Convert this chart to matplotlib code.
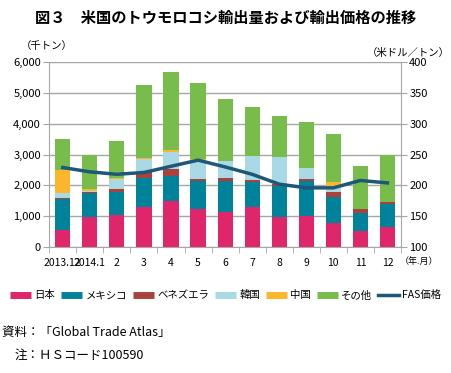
import numpy as np
import matplotlib.pyplot as plt
from matplotlib.lines import Line2D

plt.rcParams['font.family'] = ['Noto Sans CJK JP', 'DejaVu Sans']

### Data
months = ["2013.12", "2014.1", "2", "3", "4", "5", "6", "7", "8", "9", "10", "11", "12"]
japan = [545, 960, 1035, 1290, 1505, 1230, 1130, 1290, 980, 1015, 765, 525, 635]
mexico = [1005, 785, 765, 965, 815, 920, 1000, 835, 1015, 1135, 870, 565, 760]
venezuela = [50, 55, 85, 175, 210, 50, 110, 55, 55, 60, 165, 130, 55]
korea = [145, 20, 325, 440, 560, 640, 540, 760, 860, 350, 195, 10, 10]
china = [762, 55, 20, 20, 70, 15, 10, 10, 10, 10, 110, 10, 10]
others = [1003, 1125, 1200, 2360, 2510, 2475, 2020, 1610, 1350, 1495, 1575, 1405, 1505]
fas_price = [229, 222, 218, 221, 231, 241, 230, 218, 202, 196, 196, 208, 204]

series = [("日本", japan, "#E0266B"),
          ("メキシコ", mexico, "#00839A"),
          ("ベネズエラ", venezuela, "#A8423B"),
          ("韓国", korea, "#A9D9E5"),
          ("中国", china, "#FBB62B"),
          ("その他", others, "#78BC4C")]
line_color = "#1D5878"
grid_color = "#A6A6A6"

### Figure
fig = plt.figure(figsize=(4.52, 3.73), dpi=100)
ax = fig.add_axes([0.109, 0.338, 0.778, 0.495])
x = np.arange(len(months))

bottom = np.zeros(len(months))
for name, vals, col in series:
    ax.bar(x, vals, width=0.56, bottom=bottom, color=col, zorder=2)
    bottom += np.array(vals)

ax.set_xlim(-0.5, len(months) - 0.5)
ax.set_ylim(0, 6000)
ax.set_yticks(range(0, 6001, 1000))
ax.set_yticklabels([f"{v:,}" for v in range(0, 6001, 1000)], fontsize=8)
ax.set_xticks(x)
ax.set_xticklabels(months, fontsize=7.5)
ax.set_xticks(np.arange(-0.5, len(months), 1), minor=True)
ax.tick_params(axis="x", which="major", length=0, pad=8)
ax.tick_params(axis="x", which="minor", length=4, color=grid_color)
ax.tick_params(axis="y", length=4, color=grid_color, pad=2)
ax.grid(axis="y", color=grid_color, lw=1, zorder=0)
ax.set_axisbelow(True)
for s in ["top", "right"]:
    ax.spines[s].set_visible(False)
for s in ["left", "bottom"]:
    ax.spines[s].set_color(grid_color)

# price line on the right axis
ax2 = ax.twinx()
ax2.plot(x, fas_price, color=line_color, lw=2.5, zorder=3)
ax2.set_ylim(100, 400)
ax2.set_yticks(range(100, 401, 50))
ax2.tick_params(axis="y", labelsize=8, length=4, color=grid_color, pad=2)
for s in ["top", "left", "bottom"]:
    ax2.spines[s].set_visible(False)
ax2.spines["right"].set_color(grid_color)

# unit labels and title
fig.text(0.5, 0.952, "図３　米国のトウモロコシ輸出量および輸出価格の推移",
         ha="center", va="center", fontsize=11, fontweight="bold")
fig.text(0.047, 0.878, "（千トン）", fontsize=7.5, va="center")
fig.text(0.996, 0.858, "（米ドル／トン）", fontsize=7.5, va="center", ha="right")
fig.text(0.885, 0.298, "（年.月）", fontsize=6.5, va="center")

# legend
handles = [Line2D([], [], color=c, lw=5, solid_capstyle="butt") for _, _, c in series]
handles.append(Line2D([], [], color=line_color, lw=2.5))
labels = [n for n, _, _ in series] + ["FAS価格"]
fig.legend(handles, labels, loc="center", bbox_to_anchor=(0.5, 0.208), ncol=7,
           frameon=False, fontsize=7.5, handlelength=2.0, handletextpad=0.3,
           columnspacing=0.6)

# source notes
fig.text(0.005, 0.11, "資料：「Global Trade Atlas」", fontsize=9, va="center")
fig.text(0.033, 0.048, "注：ＨＳコード100590", fontsize=9, va="center")

fig.savefig("out.png", dpi=100)
